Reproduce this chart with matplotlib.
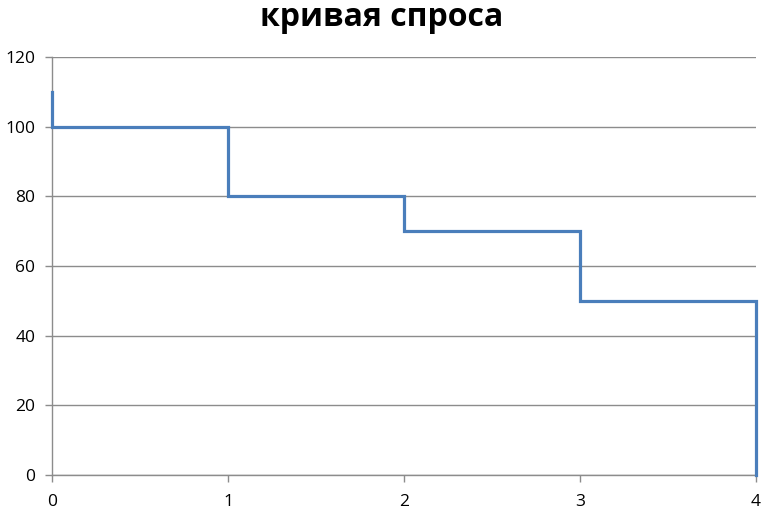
import matplotlib
matplotlib.use("Agg")
import matplotlib.pyplot as plt

plt.rcParams['font.family'] = ['Open Sans', 'DejaVu Sans']

# step points of the demand curve (quantity, price)
quantity = [0, 0, 1, 1, 2, 2, 3, 3, 4, 4]
price = [110, 100, 100, 80, 80, 70, 70, 50, 50, 0]
title = "кривая спроса"

fig = plt.figure(figsize=(7.64, 5.11), dpi=100)
ax = fig.add_axes([0.068, 0.0705, 0.9215, 0.818])

ax.plot(quantity, price, color="#4A7EBB", lw=2.3, solid_joinstyle="miter", zorder=3, clip_on=False)

ax.set_xlim(0, 4)
ax.set_ylim(0, 120)
ax.set_xticks(range(0, 5))
ax.set_yticks(range(0, 121, 20))
ax.yaxis.grid(True, color="#8c8c8c", lw=1)
ax.set_axisbelow(True)

for s in ["top", "right"]:
    ax.spines[s].set_visible(False)
for s in ["left", "bottom"]:
    ax.spines[s].set_color("#8c8c8c")
    ax.spines[s].set_linewidth(1)

ax.tick_params(axis="both", colors="#8c8c8c", labelcolor="black", length=5, width=1, labelsize=12.5)
ax.tick_params(axis="x", pad=9)
ax.tick_params(axis="y", pad=7)

fig.text(0.5, 0.965, title, ha="center", va="center", fontsize=23, fontweight="bold")

fig.savefig("out.png", dpi=100)
